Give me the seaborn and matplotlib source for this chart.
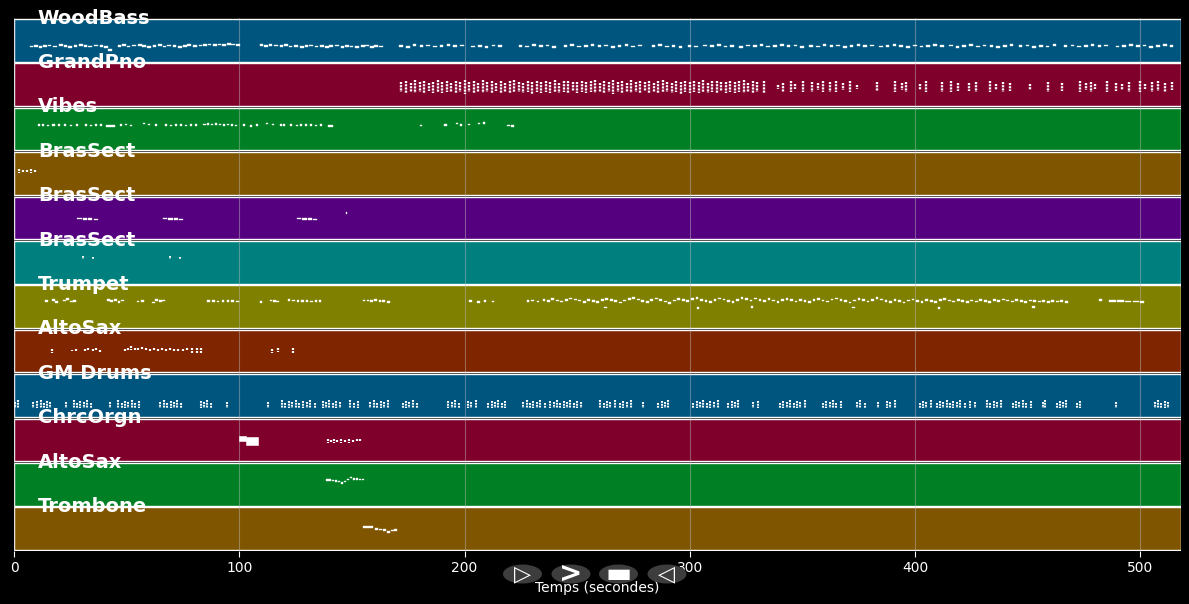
import numpy as np
import pandas as pd
import matplotlib.pyplot as plt
from matplotlib.patches import Ellipse
import seaborn as sns

sns.set_theme(style="dark")
plt.rcParams['font.family'] = ['DejaVu Sans']

# pistes (de haut en bas)
track_names = ['WoodBass', 'GrandPno', 'Vibes', 'BrasSect', 'BrasSect', 'BrasSect',
               'Trumpet', 'AltoSax', 'GM Drums', 'ChrcOrgn', 'AltoSax', 'Trombone']
band_colors = ['#00557f', '#7f002a', '#007f24', '#7f5500', '#55007f', '#007f7f',
               '#7f7f00', '#7f2500', '#00557f', '#7f002a', '#007f24', '#7f5500']
song_length = 518
x_ticks = [0, 100, 200, 300, 400, 500]

# notes simples : (temps, hauteur) ou (temps, hauteur, durée)
woodbass = [
    (7, 46), (9, 48), (11, 45), (13, 47), (15, 49), (17.5, 46), (20, 50), (22, 47), (24, 45), (26.5, 48),
    (29, 51), (31, 47), (33, 46), (35.5, 49), (38, 47), (40, 45), (41.8, 36),
    (46, 47), (48, 50), (50, 46), (52.5, 49), (55, 51), (57, 47), (59, 45), (61.5, 48), (64, 50), (66, 46),
    (68, 49), (70.5, 47), (73, 45), (75, 48), (77, 51), (79.5, 47), (82, 49), (84, 50), (86, 52), (88.5, 50),
    (90.5, 52), (92.5, 51), (94.5, 53), (96.5, 52), (98.5, 50),
    (109, 50), (111, 48), (113, 51), (115.5, 49), (118, 47), (120, 50), (122, 46), (124.5, 48), (127, 45),
    (129, 47), (131, 49), (133.5, 46), (136, 48), (138, 44), (140, 47), (142.5, 49), (145, 45), (147, 48),
    (149, 46), (151.5, 44), (154, 47), (156, 49), (158, 45), (160, 48), (162, 46),
    (171, 48), (174, 45), (177, 50), (180, 47), (183, 49), (186, 46), (189, 48), (192, 51), (195, 47), (198, 49),
    (203, 46), (206, 48), (209, 45), (212, 49), (215, 47),
    (224, 48), (227, 46), (230, 50), (233, 47), (236, 49), (239, 45),
    (244, 47), (247, 50), (250, 46), (253, 48), (256, 51), (259, 47), (262, 49), (265, 45), (268, 48),
    (271, 50), (274, 46), (277, 49),
    (283, 47), (286, 50), (289, 46), (292, 48), (295, 45), (299, 48), (302, 46),
    (306, 49), (309, 47), (312, 50), (315, 46), (318, 48),
    (322, 45), (325, 49), (328, 47), (331, 50), (334, 46), (337, 48), (340, 51), (343, 47), (346, 49), (349, 45),
    (353, 48), (356, 46), (359, 50), (362, 47), (365, 49), (368, 45), (371, 48), (374, 51), (377, 47), (380, 49),
    (384, 46), (387, 48), (390, 50), (393, 47), (396, 45), (399, 49), (402, 46), (405, 48), (408, 51), (411, 47),
    (415, 49), (418, 45), (421, 48), (424, 50), (427, 46), (430, 49), (433, 47), (436, 45), (439, 48), (442, 50),
    (446, 47), (449, 49), (452, 45), (455, 48), (458, 46), (461, 50),
    (466, 47), (469, 49), (472, 46), (475, 48), (478, 51), (481, 47), (484, 49),
    (489, 46), (492, 48), (495, 50), (498, 47), (501, 49), (504, 45), (507, 48), (510, 50), (513, 47),
]

vibes = [
    (10.6, 75), (12.4, 76), (14.6, 74), (16.9, 76), (19.5, 75), (22.2, 76), (24.8, 74), (27.5, 75),
    (31.5, 76), (33.7, 74), (35.9, 75), (38.1, 76), (40.8, 72, 4),
    (47, 75), (49.2, 77), (51.4, 74), (57.2, 80), (59.4, 77), (62.5, 75), (67, 76), (69.2, 74), (71.4, 75),
    (73.6, 76), (75.8, 74), (78, 76), (80.3, 75), (84, 77), (85.6, 78), (87.4, 77), (89.1, 78), (90.9, 77),
    (92.7, 76), (94.5, 77), (96.2, 75), (98, 74), (101.6, 75), (104.7, 73), (107.3, 76), (111.8, 80),
    (114.4, 77), (118, 76), (119.3, 75), (122.4, 76), (125, 74), (126.8, 75), (129, 76), (131.3, 75),
    (133.5, 74), (135.7, 75), (139.2, 72, 2.5),
    (180, 74), (191, 75), (196, 80), (197.8, 76), (201.3, 77), (205.8, 80), (208, 81), (219, 74), (220.8, 73),
]

brass_2 = [
    (28, 62, 2), (30.5, 61, 2), (33, 60, 1.8), (35.3, 59, 1.8),
    (66, 62, 2), (68.5, 61, 2), (71, 60, 1.8), (73.3, 59, 1.8),
    (125.5, 62, 2), (128, 61, 2), (130.5, 60, 1.8), (132.8, 59, 1.8),
    (147.2, 78, 0.5),
]

trumpet = [
    (13.7, 80), (16.9, 84), (18.2, 78), (21.7, 82), (23, 86), (24.8, 79), (26.2, 81),
    (41.2, 84), (42.8, 80), (44.5, 83), (46, 78), (47.6, 82), (54.5, 79), (56.5, 81),
    (61.2, 76), (62.8, 84), (64.3, 80), (65.8, 82),
    (85.6, 80), (87.8, 80), (90, 79), (92.2, 80), (94.4, 81), (96.5, 80), (98.6, 79),
    (109, 78), (113.5, 82), (115, 80), (116.4, 79),
    (121.5, 84), (123.5, 82), (125.5, 81), (127.5, 80), (129.5, 80), (131.5, 79), (133.5, 80), (135.2, 80),
    (154.8, 82), (156.5, 82), (158.2, 81), (160, 83), (161.8, 80), (163.5, 81), (165.5, 78),
    (202, 80), (205.5, 78), (208.5, 81), (212, 79), (227.5, 80), (229.5, 82), (232, 79),
    (234.6, 83), (236.5, 80), (238.5, 86), (240.5, 82), (242.5, 79), (244.5, 84), (246.5, 88), (248.5, 85),
    (250.5, 82), (252.5, 78), (254.5, 83), (256.5, 80), (258.5, 77), (260.5, 84), (262, 62), (262.5, 87),
    (264.5, 83), (266.5, 80), (268.5, 76), (270.5, 82), (272.5, 86), (274.5, 90), (276.5, 85), (278.5, 81),
    (280.5, 78), (282.5, 84), (284.5, 88), (286.5, 83), (288.5, 79), (290.5, 75), (292.5, 82), (294.5, 87),
    (296.5, 84), (298.5, 80), (300.5, 86), (302.5, 90), (303, 60), (304.5, 84), (306.5, 80), (308.5, 77),
    (310.5, 83), (312.5, 88), (314.5, 85), (316.5, 81), (318.5, 78), (320.5, 84), (322.5, 89), (324.5, 86),
    (326.5, 82), (327, 63), (328.5, 88), (330.5, 84), (332.5, 80), (334.5, 86), (336.5, 82), (338.5, 78),
    (340.5, 84), (342.5, 87), (344.5, 83), (346.5, 79), (348.5, 84), (350.5, 81), (352.5, 77), (354.5, 83),
    (356.5, 86), (358.5, 82), (360.5, 79), (362.5, 85), (364.5, 88), (366.5, 84), (368.5, 80), (370.5, 76),
    (372, 62), (372.5, 82), (374.5, 86), (376.5, 83), (378.5, 79), (380.5, 84), (382.5, 89), (384.5, 85),
    (386.5, 81), (388.5, 78), (390.5, 84), (392.5, 80), (394.5, 76), (396.5, 82), (398.5, 85), (400.5, 81),
    (402.5, 78), (404.5, 83), (406.5, 80), (408.5, 77), (410, 61), (410.5, 83), (412.5, 86), (414.5, 82),
    (416.5, 79), (418.5, 84), (420.5, 80), (422.5, 77), (424.5, 82), (426.5, 79), (428.5, 84), (430.5, 81),
    (432.5, 78), (434.5, 83), (436.5, 80), (438.5, 85), (440.5, 82), (442.5, 79), (444.5, 83), (446.5, 80),
    (448.5, 78), (450.5, 82), (452, 63), (452.5, 80), (454.5, 79), (456.5, 81), (458.5, 78), (460.5, 80),
    (462.5, 79), (464.5, 81), (466.5, 78),
    (481.6, 84), (486, 80, 3), (489.5, 80, 3), (493, 79, 3), (496.5, 79, 3), (500, 78, 1.5),
]

altosax_2 = [
    (138.4, 76), (139.7, 76), (141, 75), (142.3, 73), (143.7, 72), (145, 68), (146.3, 72),
    (147.7, 78), (149, 84), (150.3, 80), (151.7, 79), (153, 78), (154.3, 78),
]

trombone = [
    (154.8, 69, 2.2), (157, 70, 2.4), (160.1, 64), (161.9, 62), (163.6, 60), (165.4, 55), (167.2, 59), (168.5, 61),
]

# accords / frappes : (temps, hauteur basse, hauteur haute)
grandpno = [
    (172, 42, 72), (174, 40, 74), (176, 44, 70), (178, 39, 76), (180, 42, 71), (182, 41, 75), (184, 45, 69),
    (186, 40, 73), (188, 43, 76), (190, 39, 71), (192, 42, 74), (194, 44, 68), (196, 40, 75), (198, 42, 72),
    (200, 38, 76), (202, 43, 71), (204, 41, 74), (206, 44, 69), (208, 39, 76), (210, 42, 72), (212, 40, 74),
    (214, 45, 70), (216, 41, 75), (218, 43, 69), (220, 39, 74), (222, 42, 76), (224, 44, 72), (226, 40, 69),
    (228, 42, 75), (230, 38, 72), (232, 43, 75), (234, 41, 71), (236, 44, 74), (238, 40, 72), (240, 42, 76),
    (242, 39, 69), (244, 43, 74), (246, 41, 75), (248, 45, 71), (250, 40, 73), (252, 42, 75), (254, 39, 71),
    (256, 44, 74), (258, 41, 76), (260, 43, 69), (262, 40, 75), (264, 42, 72), (266, 38, 76), (268, 44, 71),
    (270, 41, 74), (272, 43, 69), (274, 39, 76), (276, 42, 72), (278, 40, 74), (280, 45, 71), (282, 41, 75),
    (284, 43, 69), (286, 39, 74), (288, 42, 76), (290, 44, 72), (292, 40, 69), (294, 42, 75), (296, 38, 72),
    (298, 43, 75), (300, 41, 71), (302, 44, 74), (304, 40, 72), (306, 42, 76), (308, 39, 69), (310, 43, 74),
    (312, 41, 75), (314, 45, 71), (316, 40, 73), (318, 42, 75), (320, 39, 71), (322, 44, 74), (324, 41, 76),
    (326, 43, 69), (328, 40, 75), (330, 42, 72), (333, 41, 74),
    (339, 50, 62), (341.5, 44, 70), (345, 42, 74), (346.5, 50, 66), (350, 42, 74), (354, 44, 72), (357, 48, 68),
    (359, 42, 74), (362, 44, 72), (365, 42, 75), (368, 48, 68), (371, 43, 74), (374, 50, 64),
    (383, 46, 72), (391, 42, 74), (394, 48, 68), (396, 43, 72), (402, 48, 66), (405, 42, 74), (412, 44, 72),
    (416, 42, 74), (419, 47, 68), (424, 46, 70), (427, 42, 72), (433, 44, 74), (436, 48, 66), (439, 42, 72),
    (442, 46, 70), (451, 49, 66), (459, 43, 72), (465, 46, 70),
    (473, 42, 74), (476, 48, 68), (478, 44, 72), (480, 50, 66), (485, 42, 74), (489, 46, 70), (492, 48, 66),
    (495, 42, 72), (500, 43, 74), (502, 50, 66), (505, 42, 72), (508, 46, 74), (511, 43, 70), (514, 48, 72),
]

brass_1 = [(2.2, 66, 76), (4, 67, 75), (5.8, 68, 74), (7.5, 66, 76), (9.3, 67, 75)]

brass_3 = [(30.8, 73, 81), (35.2, 74, 80), (69.2, 73, 81), (73.6, 74, 80)]

altosax = [
    (16.9, 60, 70), (25.7, 64, 68), (27.5, 62, 70), (31.5, 63, 69), (32.8, 64, 72), (35, 62, 70), (36.4, 64, 72),
    (38.1, 62, 68), (49.2, 62, 70), (50.6, 66, 74), (51.9, 68, 78), (53.7, 66, 74), (55, 64, 72), (56.8, 66, 76),
    (58.5, 64, 72), (60.3, 62, 70), (62, 64, 72), (63.9, 62, 70), (65.6, 64, 72), (67.4, 62, 70), (69.2, 64, 72),
    (71, 62, 70), (72.7, 63, 71), (75, 62, 70), (76.7, 64, 72), (79, 60, 72), (81.2, 60, 72), (83, 60, 72),
    (114.4, 60, 70), (117, 62, 72), (123.7, 60, 72),
]

chrcorgn = [
    (139.2, 56, 66), (140.6, 54, 64), (141.9, 56, 66), (143.3, 55, 63), (145, 54, 66), (146.8, 56, 64),
    (148.6, 55, 66), (150.3, 56, 64), (152.1, 57, 68), (153.4, 58, 66),
]
chrcorgn_blocks = [(100, 2.8, 62, 72), (102.8, 5.5, 52, 70)]  # (temps, durée, basse, haute)

drum_floor = 28
drums = [
    (0.5, 44), (1.6, 50), (8.6, 44), (10, 48), (11.8, 50), (13.2, 42), (14.6, 47), (16.2, 44), (23, 46),
    (26.5, 50), (28, 42), (29.5, 47), (31, 44), (32.5, 50), (34, 42), (42.6, 46),
    (46.3, 50), (47.8, 42), (49.3, 47), (50.8, 44), (52.3, 50), (53.8, 42), (55.3, 47),
    (65, 44), (66.5, 50), (68, 42), (69.5, 47), (71, 44), (72.5, 50), (74.2, 42),
    (82.8, 47), (84.3, 44), (85.8, 50), (87.5, 42), (94.5, 46), (112.6, 44),
    (119, 50), (120.5, 42), (122, 47), (123.5, 44), (125, 50), (126.5, 42),
    (128.5, 47), (130, 44), (131.5, 50), (133.8, 42),
    (137, 47), (138.5, 44), (140, 50), (141.5, 42), (143, 47), (144.5, 44),
    (149.3, 50), (151, 42), (152.8, 47), (158.2, 44), (159.7, 50), (161.2, 42), (162.7, 47), (164.2, 44), (166, 50),
    (172.5, 42), (174, 47), (175.5, 44), (177, 50), (178.7, 42),
    (192.8, 47), (194.3, 44), (195.8, 50), (197.5, 42), (201.5, 47), (203, 44), (205, 50),
    (210.5, 42), (212, 47), (213.5, 44), (215, 50), (216.5, 42), (218, 47),
    (226, 44), (227.5, 50), (229, 42), (230.5, 47), (232, 44), (233.5, 50), (235.5, 42),
    (238, 47), (239.5, 44), (241, 50), (242.5, 42), (244, 47), (245.5, 44), (247, 50), (248.5, 42), (250, 47), (251.5, 44),
    (260.2, 50), (261.7, 42), (263.2, 47), (264.7, 44), (266.7, 50),
    (269, 42), (270.5, 47), (272, 44), (274, 50), (279, 46),
    (286, 42), (287.5, 47), (289, 44), (290.5, 50),
    (301.5, 42), (303, 47), (304.5, 44), (306, 50), (307.5, 42), (309, 47), (310.5, 44), (312.5, 50),
    (317, 42), (318.5, 47), (320, 44), (321.5, 50), (328, 44), (330.3, 48),
    (340, 42), (341.5, 47), (343, 44), (344.5, 50), (346, 42), (347.5, 47), (349, 44), (351.2, 50),
    (359, 42), (360.5, 47), (362, 44), (363.5, 50), (365, 42), (367, 47),
    (374, 44), (375.5, 50), (377.8, 42), (383.3, 46), (387.5, 47), (389, 44), (391, 50),
    (402, 42), (403.5, 47), (405, 44), (407, 50),
    (409.5, 42), (411, 47), (412.5, 44), (414, 50), (415.5, 42), (417, 47), (418.5, 44), (420, 50), (422, 42),
    (424.2, 47), (426.5, 44), (431.8, 50), (433.3, 42), (434.8, 47), (436.3, 44), (438, 50),
    (443.3, 42), (444.8, 47), (446.3, 44), (447.8, 50), (449.3, 42), (451.3, 47),
    (456.6, 44), (457.8, 50), (462.8, 42), (464.3, 47), (465.8, 44), (467, 50), (471.7, 42), (473.2, 47),
    (489, 46), (506.3, 44), (507.8, 50), (509.3, 42), (510.8, 47), (512.3, 44),
]
drum_hits = [(t, drum_floor, hi) for t, hi in drums]


def y_of(i, pitch):
    # hauteur MIDI (0-127) -> position dans la bande i
    return i + 0.5 - pitch / 128


def draw_notes(ax, i, notes, dur):
    t = [n[0] for n in notes]
    p = [n[1] for n in notes]
    d = [n[2] if len(n) > 2 else dur for n in notes]
    bottom = [y_of(i, v) - 2.5 / 128 for v in p]
    ax.bar(t, [5 / 128] * len(t), width=d, bottom=bottom, align='edge',
           color='white', edgecolor='white', linewidth=0.25, zorder=4)


def draw_stacks(ax, i, stacks, lw=2.0):
    t = [s[0] for s in stacks]
    ax.vlines(t, [y_of(i, s[2]) for s in stacks], [y_of(i, s[1]) for s in stacks],
              color='white', lw=lw, linestyles=(0, (0.9, 0.45)), zorder=4)


def draw_blocks(ax, i, blocks):
    ax.bar([b[0] for b in blocks], [(b[3] - b[2] + 4) / 128 for b in blocks],
           width=[b[1] for b in blocks], bottom=[y_of(i, b[3]) - 2 / 128 for b in blocks],
           align='edge', color='white', edgecolor='white', linewidth=0.4, zorder=4)


fig = plt.figure(figsize=(11.89, 6.04), dpi=100, facecolor='black')
ax = fig.add_axes([14 / 1189, 1 - 551 / 604, 1167 / 1189, 533 / 604])
ax.set_facecolor('black')

tracks = pd.DataFrame({'piste': [f'{k:02d} {n}' for k, n in enumerate(track_names)],
                       'duree': [song_length] * len(track_names)})
sns.barplot(data=tracks, x='duree', y='piste', hue='piste', palette=band_colors,
            orient='h', width=0.96, saturation=1, legend=False, errorbar=None, ax=ax)

ax.set_xlim(0, song_length)
ax.set_ylim(11.5, -0.5)
ax.set_xticks(x_ticks)
ax.set_axisbelow(False)
ax.grid(axis='x', color='#bbbbbb', alpha=0.45, lw=0.8, zorder=2)
ax.grid(axis='y', visible=False)

draw_notes(ax, 0, woodbass, 1.6)
draw_stacks(ax, 1, grandpno, lw=1.7)
draw_notes(ax, 2, vibes, 1.1)
draw_stacks(ax, 3, brass_1, lw=1.6)
draw_notes(ax, 4, brass_2, 2.0)
draw_stacks(ax, 5, brass_3, lw=1.4)
draw_notes(ax, 6, trumpet, 1.2)
draw_stacks(ax, 7, altosax, lw=1.6)
draw_stacks(ax, 8, drum_hits, lw=1.5)
draw_blocks(ax, 9, chrcorgn_blocks)
draw_stacks(ax, 9, chrcorgn, lw=1.6)
draw_notes(ax, 10, altosax_2, 1.2)
draw_notes(ax, 11, trombone, 1.3)

for i, name in enumerate(track_names):
    ax.text(10.6, i - 0.5, name, color='white', fontsize=14, fontweight='bold',
            ha='left', va='center', zorder=6)

for s in ax.spines.values():
    s.set_visible(False)
ax.tick_params(axis='x', colors='white', labelsize=10, length=4, width=0.8, bottom=True)
ax.tick_params(axis='y', left=False, labelleft=False)
ax.set_ylabel('')
ax.set_xlabel('Temps (secondes)', color='white', fontsize=10, labelpad=4)

# boutons de lecture
for cx, sym, fs in [(522.5, '▷', 16), (571, '>', 20), (618.5, '▬', 20), (667, '◁', 16)]:
    fx, fy = cx / 1189, 1 - 574 / 604
    fig.add_artist(Ellipse((fx, fy), 39 / 1189, 19 / 604, transform=fig.transFigure,
                           facecolor='#3d3d3d', edgecolor='none', zorder=5))
    fig.text(fx, fy, sym, color='white', fontsize=fs, fontweight='bold',
             ha='center', va='center', zorder=6)

fig.savefig('out.png', dpi=100, facecolor='black')
